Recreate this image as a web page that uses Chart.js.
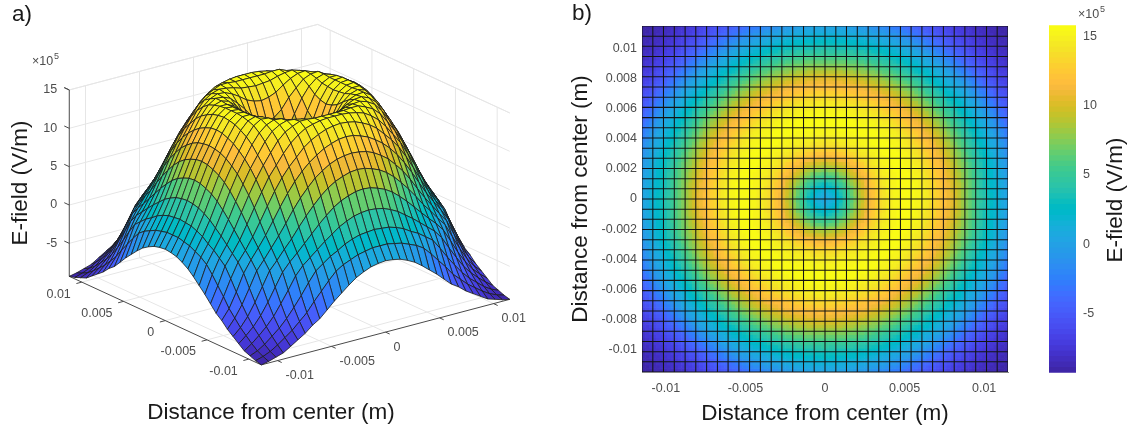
<!DOCTYPE html>
<html>
<head>
<meta charset="utf-8">
<title>E-field surface and map</title>
<script src="https://cdn.jsdelivr.net/npm/chart.js@4"></script>
<style>
    html, body { margin: 0; padding: 0; background: #fff; }
    canvas { position: absolute; top: 0; filter: blur(0.45px); }
</style>
</head>
<body>
<canvas id="surfaceChart" width="560" height="432" style="left:0"></canvas>
<canvas id="mapChart" width="480" height="432" style="left:560px"></canvas>
<canvas id="barChart" width="91" height="432" style="left:1040px"></canvas>
<script>
// node positions of the mesh (m), same for both directions
const gridPos = [-0.0115, -0.01082, -0.01015, -0.00947, -0.00879, -0.00812, -0.00744, -0.00676, -0.00609,
    -0.00541, -0.00474, -0.00406, -0.00338, -0.00271, -0.00203, -0.00135, -0.00068, 0,
    0.00068, 0.00135, 0.00203, 0.00271, 0.00338, 0.00406, 0.00474, 0.00541, 0.00609,
    0.00676, 0.00744, 0.00812, 0.00879, 0.00947, 0.01015, 0.01082, 0.0115];

// E-field at each mesh node, in units of 1e5 V/m
const efield = [
    [-9.3,-9.1,-8.8,-8.5,-7.9,-7.3,-6.7,-5.9,-5.3,-4.4,-3.5,-2.7,-1.9,-1.2,-0.7,-0.3,-0.1,0,-0.1,-0.3,-0.7,-1.2,-1.9,-2.7,-3.5,-4.4,-5.3,-5.9,-6.7,-7.3,-7.9,-8.5,-8.8,-9.1,-9.3],
    [-9.1,-8.8,-8.4,-7.8,-7.1,-6.4,-5.5,-4.6,-3.4,-2.3,-1.2,-0.2,0.4,0.8,1.2,1.4,1.6,1.6,1.6,1.4,1.2,0.8,0.4,-0.2,-1.2,-2.3,-3.4,-4.6,-5.5,-6.4,-7.1,-7.8,-8.4,-8.8,-9.1],
    [-8.8,-8.4,-7.8,-7,-6.2,-5.2,-4,-2.7,-1.3,0,0.7,1.4,1.9,2.5,2.9,3.2,3.3,3.4,3.3,3.2,2.9,2.5,1.9,1.4,0.7,0,-1.3,-2.7,-4,-5.2,-6.2,-7,-7.8,-8.4,-8.8],
    [-8.5,-7.8,-7,-6.1,-5,-3.6,-2.1,-0.5,0.6,1.4,2.2,3,3.7,4.4,4.9,5.3,5.5,5.6,5.5,5.3,4.9,4.4,3.7,3,2.2,1.4,0.6,-0.5,-2.1,-3.6,-5,-6.1,-7,-7.8,-8.5],
    [-7.9,-7.1,-6.2,-5,-3.5,-1.8,-0.1,1,1.9,2.9,3.9,4.9,5.8,6.6,7.2,7.6,7.9,8,7.9,7.6,7.2,6.6,5.8,4.9,3.9,2.9,1.9,1,-0.1,-1.8,-3.5,-5,-6.2,-7.1,-7.9],
    [-7.3,-6.4,-5.2,-3.6,-1.8,0,1.1,2.3,3.4,4.7,5.9,7,8,8.8,9.4,9.8,10.1,10.2,10.1,9.8,9.4,8.8,8,7,5.9,4.7,3.4,2.3,1.1,0,-1.8,-3.6,-5.2,-6.4,-7.3],
    [-6.7,-5.5,-4,-2.1,-0.1,1.1,2.4,3.7,5.1,6.6,7.9,9,10,10.7,11.3,11.7,11.9,12,11.9,11.7,11.3,10.7,10,9,7.9,6.6,5.1,3.7,2.4,1.1,-0.1,-2.1,-4,-5.5,-6.7],
    [-5.9,-4.6,-2.7,-0.5,1,2.3,3.7,5.3,6.9,8.4,9.7,10.8,11.7,12.4,13,13.4,13.7,13.8,13.7,13.4,13,12.4,11.7,10.8,9.7,8.4,6.9,5.3,3.7,2.3,1,-0.5,-2.7,-4.6,-5.9],
    [-5.3,-3.4,-1.3,0.6,1.9,3.4,5.1,6.9,8.6,10.1,11.3,12.3,13.3,14,14.5,14.9,15.1,15.2,15.1,14.9,14.5,14,13.3,12.3,11.3,10.1,8.6,6.9,5.1,3.4,1.9,0.6,-1.3,-3.4,-5.3],
    [-4.4,-2.3,0,1.4,2.9,4.7,6.6,8.4,10.1,11.4,12.7,13.8,14.6,15.2,15.5,15.7,15.8,15.8,15.8,15.7,15.5,15.2,14.6,13.8,12.7,11.4,10.1,8.4,6.6,4.7,2.9,1.4,0,-2.3,-4.4],
    [-3.5,-1.2,0.7,2.2,3.9,5.9,7.9,9.7,11.3,12.7,14,14.9,15.4,15.8,15.8,15.7,15.7,15.7,15.7,15.7,15.8,15.8,15.4,14.9,14,12.7,11.3,9.7,7.9,5.9,3.9,2.2,0.7,-1.2,-3.5],
    [-2.7,-0.2,1.4,3,4.9,7,9,10.8,12.3,13.8,14.9,15.5,15.8,15.7,15.5,15.2,15.1,15,15.1,15.2,15.5,15.7,15.8,15.5,14.9,13.8,12.3,10.8,9,7,4.9,3,1.4,-0.2,-2.7],
    [-1.9,0.4,1.9,3.7,5.8,8,10,11.7,13.3,14.6,15.4,15.8,15.7,15.3,14.7,14,13.6,13.4,13.6,14,14.7,15.3,15.7,15.8,15.4,14.6,13.3,11.7,10,8,5.8,3.7,1.9,0.4,-1.9],
    [-1.2,0.8,2.5,4.4,6.6,8.8,10.7,12.4,14,15.2,15.8,15.7,15.3,14.4,13.4,12.1,11.3,11,11.3,12.1,13.4,14.4,15.3,15.7,15.8,15.2,14,12.4,10.7,8.8,6.6,4.4,2.5,0.8,-1.2],
    [-0.7,1.2,2.9,4.9,7.2,9.4,11.3,13,14.5,15.5,15.8,15.5,14.7,13.4,11.6,9.8,8.5,8,8.5,9.8,11.6,13.4,14.7,15.5,15.8,15.5,14.5,13,11.3,9.4,7.2,4.9,2.9,1.2,-0.7],
    [-0.3,1.4,3.2,5.3,7.6,9.8,11.7,13.4,14.9,15.7,15.7,15.2,14,12.1,9.8,7.4,5.4,4.6,5.4,7.4,9.8,12.1,14,15.2,15.7,15.7,14.9,13.4,11.7,9.8,7.6,5.3,3.2,1.4,-0.3],
    [-0.1,1.6,3.3,5.5,7.9,10.1,11.9,13.7,15.1,15.8,15.7,15.1,13.6,11.3,8.5,5.4,2.8,1.6,2.8,5.4,8.5,11.3,13.6,15.1,15.7,15.8,15.1,13.7,11.9,10.1,7.9,5.5,3.3,1.6,-0.1],
    [0,1.6,3.4,5.6,8,10.2,12,13.8,15.2,15.8,15.7,15,13.4,11,8,4.6,1.6,0.4,1.6,4.6,8,11,13.4,15,15.7,15.8,15.2,13.8,12,10.2,8,5.6,3.4,1.6,0],
    [-0.1,1.6,3.3,5.5,7.9,10.1,11.9,13.7,15.1,15.8,15.7,15.1,13.6,11.3,8.5,5.4,2.8,1.6,2.8,5.4,8.5,11.3,13.6,15.1,15.7,15.8,15.1,13.7,11.9,10.1,7.9,5.5,3.3,1.6,-0.1],
    [-0.3,1.4,3.2,5.3,7.6,9.8,11.7,13.4,14.9,15.7,15.7,15.2,14,12.1,9.8,7.4,5.4,4.6,5.4,7.4,9.8,12.1,14,15.2,15.7,15.7,14.9,13.4,11.7,9.8,7.6,5.3,3.2,1.4,-0.3],
    [-0.7,1.2,2.9,4.9,7.2,9.4,11.3,13,14.5,15.5,15.8,15.5,14.7,13.4,11.6,9.8,8.5,8,8.5,9.8,11.6,13.4,14.7,15.5,15.8,15.5,14.5,13,11.3,9.4,7.2,4.9,2.9,1.2,-0.7],
    [-1.2,0.8,2.5,4.4,6.6,8.8,10.7,12.4,14,15.2,15.8,15.7,15.3,14.4,13.4,12.1,11.3,11,11.3,12.1,13.4,14.4,15.3,15.7,15.8,15.2,14,12.4,10.7,8.8,6.6,4.4,2.5,0.8,-1.2],
    [-1.9,0.4,1.9,3.7,5.8,8,10,11.7,13.3,14.6,15.4,15.8,15.7,15.3,14.7,14,13.6,13.4,13.6,14,14.7,15.3,15.7,15.8,15.4,14.6,13.3,11.7,10,8,5.8,3.7,1.9,0.4,-1.9],
    [-2.7,-0.2,1.4,3,4.9,7,9,10.8,12.3,13.8,14.9,15.5,15.8,15.7,15.5,15.2,15.1,15,15.1,15.2,15.5,15.7,15.8,15.5,14.9,13.8,12.3,10.8,9,7,4.9,3,1.4,-0.2,-2.7],
    [-3.5,-1.2,0.7,2.2,3.9,5.9,7.9,9.7,11.3,12.7,14,14.9,15.4,15.8,15.8,15.7,15.7,15.7,15.7,15.7,15.8,15.8,15.4,14.9,14,12.7,11.3,9.7,7.9,5.9,3.9,2.2,0.7,-1.2,-3.5],
    [-4.4,-2.3,0,1.4,2.9,4.7,6.6,8.4,10.1,11.4,12.7,13.8,14.6,15.2,15.5,15.7,15.8,15.8,15.8,15.7,15.5,15.2,14.6,13.8,12.7,11.4,10.1,8.4,6.6,4.7,2.9,1.4,0,-2.3,-4.4],
    [-5.3,-3.4,-1.3,0.6,1.9,3.4,5.1,6.9,8.6,10.1,11.3,12.3,13.3,14,14.5,14.9,15.1,15.2,15.1,14.9,14.5,14,13.3,12.3,11.3,10.1,8.6,6.9,5.1,3.4,1.9,0.6,-1.3,-3.4,-5.3],
    [-5.9,-4.6,-2.7,-0.5,1,2.3,3.7,5.3,6.9,8.4,9.7,10.8,11.7,12.4,13,13.4,13.7,13.8,13.7,13.4,13,12.4,11.7,10.8,9.7,8.4,6.9,5.3,3.7,2.3,1,-0.5,-2.7,-4.6,-5.9],
    [-6.7,-5.5,-4,-2.1,-0.1,1.1,2.4,3.7,5.1,6.6,7.9,9,10,10.7,11.3,11.7,11.9,12,11.9,11.7,11.3,10.7,10,9,7.9,6.6,5.1,3.7,2.4,1.1,-0.1,-2.1,-4,-5.5,-6.7],
    [-7.3,-6.4,-5.2,-3.6,-1.8,0,1.1,2.3,3.4,4.7,5.9,7,8,8.8,9.4,9.8,10.1,10.2,10.1,9.8,9.4,8.8,8,7,5.9,4.7,3.4,2.3,1.1,0,-1.8,-3.6,-5.2,-6.4,-7.3],
    [-7.9,-7.1,-6.2,-5,-3.5,-1.8,-0.1,1,1.9,2.9,3.9,4.9,5.8,6.6,7.2,7.6,7.9,8,7.9,7.6,7.2,6.6,5.8,4.9,3.9,2.9,1.9,1,-0.1,-1.8,-3.5,-5,-6.2,-7.1,-7.9],
    [-8.5,-7.8,-7,-6.1,-5,-3.6,-2.1,-0.5,0.6,1.4,2.2,3,3.7,4.4,4.9,5.3,5.5,5.6,5.5,5.3,4.9,4.4,3.7,3,2.2,1.4,0.6,-0.5,-2.1,-3.6,-5,-6.1,-7,-7.8,-8.5],
    [-8.8,-8.4,-7.8,-7,-6.2,-5.2,-4,-2.7,-1.3,0,0.7,1.4,1.9,2.5,2.9,3.2,3.3,3.4,3.3,3.2,2.9,2.5,1.9,1.4,0.7,0,-1.3,-2.7,-4,-5.2,-6.2,-7,-7.8,-8.4,-8.8],
    [-9.1,-8.8,-8.4,-7.8,-7.1,-6.4,-5.5,-4.6,-3.4,-2.3,-1.2,-0.2,0.4,0.8,1.2,1.4,1.6,1.6,1.6,1.4,1.2,0.8,0.4,-0.2,-1.2,-2.3,-3.4,-4.6,-5.5,-6.4,-7.1,-7.8,-8.4,-8.8,-9.1],
    [-9.3,-9.1,-8.8,-8.5,-7.9,-7.3,-6.7,-5.9,-5.3,-4.4,-3.5,-2.7,-1.9,-1.2,-0.7,-0.3,-0.1,0,-0.1,-0.3,-0.7,-1.2,-1.9,-2.7,-3.5,-4.4,-5.3,-5.9,-6.7,-7.3,-7.9,-8.5,-8.8,-9.1,-9.3]
];

const distTicks = [-0.01, -0.005, 0, 0.005, 0.01];
const mapYTicks = [-0.01, -0.008, -0.006, -0.004, -0.002, 0, 0.002, 0.004, 0.006, 0.008, 0.01];
const fieldTicks = [-5, 0, 5, 10, 15];
const colorMin = -9.26;
const colorMax = 15.8;

// parula
const colormap = [
    [0.2422,0.1504,0.6603],[0.2504,0.1650,0.7076],[0.2578,0.1818,0.7511],[0.2647,0.1978,0.7952],
    [0.2706,0.2147,0.8364],[0.2751,0.2342,0.8710],[0.2783,0.2559,0.8991],[0.2803,0.2782,0.9221],
    [0.2813,0.3006,0.9414],[0.2810,0.3228,0.9579],[0.2795,0.3447,0.9717],[0.2760,0.3667,0.9829],
    [0.2699,0.3892,0.9906],[0.2602,0.4123,0.9952],[0.2440,0.4358,0.9988],[0.2206,0.4603,0.9973],
    [0.1963,0.4847,0.9892],[0.1834,0.5074,0.9798],[0.1786,0.5289,0.9682],[0.1764,0.5499,0.9520],
    [0.1687,0.5703,0.9359],[0.1540,0.5902,0.9218],[0.1460,0.6091,0.9079],[0.1380,0.6276,0.8973],
    [0.1248,0.6459,0.8883],[0.1113,0.6635,0.8763],[0.0952,0.6798,0.8598],[0.0689,0.6948,0.8394],
    [0.0297,0.7082,0.8163],[0.0036,0.7203,0.7917],[0.0067,0.7312,0.7660],[0.0433,0.7411,0.7394],
    [0.0964,0.7500,0.7120],[0.1408,0.7584,0.6842],[0.1717,0.7670,0.6554],[0.1938,0.7758,0.6251],
    [0.2161,0.7843,0.5923],[0.2470,0.7918,0.5567],[0.2906,0.7973,0.5188],[0.3406,0.8008,0.4789],
    [0.3909,0.8029,0.4354],[0.4456,0.8024,0.3909],[0.5044,0.7993,0.3480],[0.5616,0.7942,0.3045],
    [0.6174,0.7876,0.2612],[0.6720,0.7793,0.2227],[0.7242,0.7698,0.1910],[0.7738,0.7598,0.1646],
    [0.8203,0.7498,0.1535],[0.8634,0.7406,0.1596],[0.9035,0.7330,0.1774],[0.9393,0.7288,0.2100],
    [0.9728,0.7298,0.2394],[0.9956,0.7434,0.2371],[0.9970,0.7659,0.2199],[0.9952,0.7893,0.2028],
    [0.9892,0.8136,0.1885],[0.9786,0.8386,0.1766],[0.9676,0.8639,0.1643],[0.9610,0.8890,0.1537],
    [0.9597,0.9135,0.1423],[0.9628,0.9373,0.1265],[0.9691,0.9606,0.1064],[0.9769,0.9839,0.0805]
];

const FONT = '"Liberation Sans", Arial, sans-serif';
const TICK_COLOR = "#4d4d4d";
const TITLE_FONT = "22.5px " + FONT;
const TICK_FONT = "12.5px " + FONT;

function rgb(c) {
    return "rgb(" + Math.round(c[0] * 255) + "," + Math.round(c[1] * 255) + "," + Math.round(c[2] * 255) + ")";
}

function fieldColor(v) {
    let t = (v - colorMin) / (colorMax - colorMin);
    let i = Math.round(t * (colormap.length - 1));
    i = Math.max(0, Math.min(colormap.length - 1, i));
    return rgb(colormap[i]);
}

function cellMean(r, c) {
    return (efield[r][c] + efield[r][c + 1] + efield[r + 1][c] + efield[r + 1][c + 1]) / 4;
}

// writes labels that are not tied to one of the library's axes
function textPlugin(items) {
    return {
        id: "textMarks",
        afterDraw(chart) {
            const ctx = chart.ctx;
            items.forEach(t => {
                ctx.save();
                ctx.translate(t.x, t.y);
                if (t.rotate) ctx.rotate(t.rotate);
                ctx.font = t.font;
                ctx.fillStyle = t.color;
                ctx.textAlign = t.align || "center";
                ctx.textBaseline = "middle";
                ctx.fillText(t.text, 0, 0);
                ctx.restore();
            });
        }
    };
}

const baseOptions = {
    responsive: false,
    animation: false,
    events: [],
    plugins: { legend: { display: false }, tooltip: { enabled: false } }
};

// ---- a) surface: orthographic view of the (x, y, E) nodes into the chart's scales
const FLOOR = -9.3;
const TOP = 15;
const LIMIT = 0.0115;

function view(x, y, z) {
    return {
        x: 289.5 + 10800 * x - 8350 * y,
        y: 216.5 - 2850 * x - 3850 * y - 7.67 * z
    };
}

const surfaceData = [];

// front cells first: the library paints the first dataset last
for (let r = 0; r < efield.length - 1; r++) {
    for (let c = 0; c < efield.length - 1; c++) {
        surfaceData.push({
            data: [
                view(gridPos[c], gridPos[r], efield[r][c]),
                view(gridPos[c + 1], gridPos[r], efield[r][c + 1]),
                view(gridPos[c + 1], gridPos[r + 1], efield[r + 1][c + 1]),
                view(gridPos[c], gridPos[r + 1], efield[r + 1][c]),
                view(gridPos[c], gridPos[r], efield[r][c])
            ],
            showLine: true,
            fill: "shape",
            backgroundColor: fieldColor(cellMean(r, c)),
            borderColor: "#1c1c1c",
            borderWidth: 0.8
        });
    }
}

function segment(a, b, color, width) {
    return { data: [view(a[0], a[1], a[2]), view(b[0], b[1], b[2])], showLine: true, borderColor: color, borderWidth: width };
}

const AXIS_COLOR = "#4a4a4a";
const WALL_COLOR = "#e6e6e6";

// axis lines and tick marks
surfaceData.push(segment([-LIMIT, LIMIT, FLOOR], [-LIMIT, LIMIT, TOP], AXIS_COLOR, 1));
surfaceData.push(segment([-LIMIT, LIMIT, FLOOR], [-LIMIT, -LIMIT, FLOOR], AXIS_COLOR, 1));
surfaceData.push(segment([-LIMIT, -LIMIT, FLOOR], [LIMIT, -LIMIT, FLOOR], AXIS_COLOR, 1));
fieldTicks.concat([TOP]).forEach(z => {
    surfaceData.push(segment([-LIMIT, LIMIT, z], [-LIMIT, LIMIT + 0.0006, z], AXIS_COLOR, 1));
});
distTicks.forEach(d => {
    surfaceData.push(segment([-LIMIT, d, FLOOR], [-LIMIT - 0.0005, d, FLOOR], AXIS_COLOR, 1));
    surfaceData.push(segment([d, -LIMIT, FLOOR], [d, -LIMIT - 0.0005, FLOOR], AXIS_COLOR, 1));
});

// back walls and floor
fieldTicks.concat([TOP]).forEach(z => {
    surfaceData.push(segment([-LIMIT, LIMIT, z], [LIMIT, LIMIT, z], WALL_COLOR, 1));
    surfaceData.push(segment([LIMIT, LIMIT, z], [LIMIT, -LIMIT, z], WALL_COLOR, 1));
});
distTicks.forEach(d => {
    surfaceData.push(segment([d, LIMIT, FLOOR], [d, LIMIT, TOP], WALL_COLOR, 1));
    surfaceData.push(segment([LIMIT, d, FLOOR], [LIMIT, d, TOP], WALL_COLOR, 1));
    surfaceData.push(segment([d, -LIMIT, FLOOR], [d, LIMIT, FLOOR], WALL_COLOR, 1));
    surfaceData.push(segment([-LIMIT, d, FLOOR], [LIMIT, d, FLOOR], WALL_COLOR, 1));
});
surfaceData.push(segment([-LIMIT, LIMIT, FLOOR], [LIMIT, LIMIT, FLOOR], WALL_COLOR, 1));
surfaceData.push(segment([LIMIT, LIMIT, FLOOR], [LIMIT, -LIMIT, FLOOR], WALL_COLOR, 1));

const surfaceText = [
    { text: "a)", x: 12, y: 15, font: TITLE_FONT, color: "#1a1a1a", align: "left" },
    { text: "E-field (V/m)", x: 21, y: 183, font: TITLE_FONT, color: "#1a1a1a", rotate: -Math.PI / 2 },
    { text: "Distance from center (m)", x: 271, y: 413, font: TITLE_FONT, color: "#1a1a1a" },
    { text: "\u00d710", x: 32, y: 62, font: TICK_FONT, color: TICK_COLOR, align: "left" },
    { text: "5", x: 54, y: 57, font: "9px " + FONT, color: TICK_COLOR, align: "left" }
];
fieldTicks.forEach(z => {
    const p = view(-LIMIT, LIMIT, z);
    surfaceText.push({ text: String(z), x: p.x - 12, y: p.y, font: TICK_FONT, color: TICK_COLOR, align: "right" });
});
distTicks.forEach(d => {
    const a = view(-LIMIT, d, FLOOR);
    const b = view(d, -LIMIT, FLOOR);
    surfaceText.push({ text: String(d), x: a.x - 11, y: a.y + 12, font: TICK_FONT, color: TICK_COLOR, align: "right" });
    surfaceText.push({ text: String(d), x: b.x + 8, y: b.y + 15, font: TICK_FONT, color: TICK_COLOR, align: "left" });
});

new Chart(document.getElementById("surfaceChart"), {
    type: "scatter",
    data: { datasets: surfaceData },
    options: {
        ...baseOptions,
        elements: { point: { radius: 0 }, line: { tension: 0 } },
        scales: {
            x: { type: "linear", min: 0, max: 560, display: false },
            y: { type: "linear", min: 0, max: 432, reverse: true, display: false }
        }
    },
    plugins: [textPlugin(surfaceText)]
});

// ---- b) map: floating bars, each mesh cell shaded across in SHADE steps between its corner
// nodes (like surf's interpolated shading), with the mesh itself as line datasets on top
const SHADE = 3;
const mapCells = [];
const mapColors = [];
for (let r = 0; r < efield.length - 1; r++) {
    for (let c = 0; c < efield.length - 1; c++) {
        const dx = (gridPos[c + 1] - gridPos[c]) / SHADE;
        const dy = (gridPos[r + 1] - gridPos[r]) / SHADE;
        for (let v = 0; v < SHADE; v++) {
            for (let u = 0; u < SHADE; u++) {
                const fx = (u + 0.5) / SHADE;
                const fy = (v + 0.5) / SHADE;
                const low = efield[r][c] * (1 - fx) + efield[r][c + 1] * fx;
                const high = efield[r + 1][c] * (1 - fx) + efield[r + 1][c + 1] * fx;
                mapCells.push({ x: gridPos[c] + (u + 0.5) * dx, y: [gridPos[r] + v * dy, gridPos[r] + (v + 1) * dy] });
                mapColors.push(fieldColor(low * (1 - fy) + high * fy));
            }
        }
    }
}

const mapDatasets = [{
    type: "bar",
    order: 2,
    data: mapCells,
    backgroundColor: mapColors,
    borderWidth: 0,
    barPercentage: 1,
    categoryPercentage: 1,
    grouped: false
}];

gridPos.forEach(p => {
    [[{ x: p, y: -LIMIT }, { x: p, y: LIMIT }], [{ x: -LIMIT, y: p }, { x: LIMIT, y: p }]].forEach(line => {
        mapDatasets.push({ type: "scatter", order: 1, data: line, showLine: true, pointRadius: 0, borderColor: "#141414", borderWidth: 1.05 });
    });
});

new Chart(document.getElementById("mapChart"), {
    data: { datasets: mapDatasets },
    options: {
        ...baseOptions,
        layout: { padding: { top: 26, right: 32, left: 0, bottom: 0 } },
        scales: {
            x: {
                type: "linear",
                offset: false,
                min: -LIMIT,
                max: LIMIT,
                afterBuildTicks: s => { s.ticks = distTicks.map(v => ({ value: v })); },
                afterFit: s => { s.height = 60; },
                grid: { display: false, drawTicks: false },
                border: { color: "#888" },
                ticks: { color: TICK_COLOR, font: { family: FONT, size: 12.5 }, padding: 9, maxRotation: 0, autoSkip: false, callback: v => String(v) },
                title: { display: true, text: "Distance from center (m)", color: "#1a1a1a", font: { family: FONT, size: 22.5 }, padding: { top: 0, bottom: 4.5 } }
            },
            y: {
                type: "linear",
                min: -LIMIT,
                max: LIMIT,
                afterBuildTicks: s => { s.ticks = mapYTicks.map(v => ({ value: v })); },
                afterFit: s => { s.width = 82; },
                grid: { display: false, drawTicks: false },
                border: { color: "#888" },
                ticks: { color: TICK_COLOR, font: { family: FONT, size: 12.5 }, padding: 5, autoSkip: false, callback: v => String(v) },
                title: { display: true, text: "Distance from center (m)", color: "#1a1a1a", font: { family: FONT, size: 22.5 }, padding: { top: 7.5, bottom: 0 } }
            }
        }
    },
    plugins: [textPlugin([{ text: "b)", x: 12, y: 14, font: TITLE_FONT, color: "#1a1a1a", align: "left" }])]
});

// ---- colorbar: one floating bar per colormap level
const barLevels = colormap.map((c, i) => {
    const step = (colorMax - colorMin) / colormap.length;
    return { data: [[colorMin + i * step, colorMin + (i + 1) * step]], backgroundColor: rgb(c), barPercentage: 1, categoryPercentage: 1, grouped: false };
});

new Chart(document.getElementById("barChart"), {
    type: "bar",
    data: { labels: ["E"], datasets: barLevels },
    options: {
        ...baseOptions,
        layout: { padding: { top: 25.3, left: 9, right: 0, bottom: 59.3 } },
        scales: {
            x: { display: false, offset: true },
            y: {
                type: "linear",
                position: "right",
                min: colorMin,
                max: colorMax,
                afterBuildTicks: s => { s.ticks = fieldTicks.map(v => ({ value: v })); },
                afterFit: s => { s.width = 55; },
                grid: { drawOnChartArea: false, tickLength: -3, tickColor: "#555" },
                border: { display: false },
                ticks: { color: TICK_COLOR, font: { family: FONT, size: 12.5 }, padding: 10, autoSkip: false, callback: v => String(v) }
            }
        }
    },
    plugins: [textPlugin([
        { text: "\u00d710", x: 38, y: 15, font: TICK_FONT, color: TICK_COLOR, align: "left" },
        { text: "5", x: 60, y: 10, font: "9px " + FONT, color: TICK_COLOR, align: "left" },
        { text: "E-field (V/m)", x: 76, y: 200, font: TITLE_FONT, color: "#1a1a1a", rotate: -Math.PI / 2 }
    ])]
});
</script>
</body>
</html>
